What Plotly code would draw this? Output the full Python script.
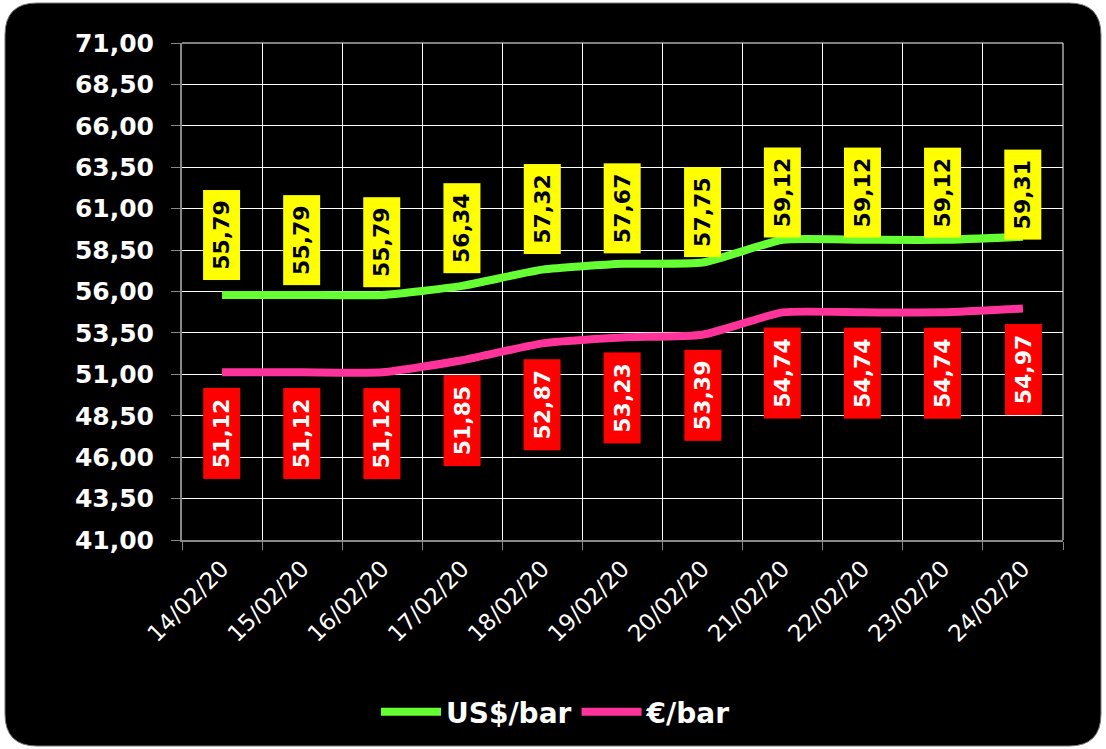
import plotly.graph_objects as go

dates = ["14/02/20", "15/02/20", "16/02/20", "17/02/20", "18/02/20", "19/02/20",
         "20/02/20", "21/02/20", "22/02/20", "23/02/20", "24/02/20"]
usd_bar = [55.79, 55.79, 55.79, 56.34, 57.32, 57.67, 57.75, 59.12, 59.12, 59.12, 59.31]
eur_bar = [51.12, 51.12, 51.12, 51.85, 52.87, 53.23, 53.39, 54.74, 54.74, 54.74, 54.97]
series_names = ["US$/bar", "€/bar"]

# label placement (pixel gap between point and label box, as in the original chart)
usd_label_gap = [14, 9, 7, 12, 15, 10, 5, 2, 2, 2, -3]
eur_label_gap = [15, 15, 15, 14, 15, 15, 15, 15, 15, 15, 15]

W, H = 1106, 749
ML, MR, MT, MB = 182, 43, 43, 209
PW, PH = W - ML - MR, H - MT - MB


def px(x):
    return (x - ML) / PW


def py(y):
    return (H - MB - y) / PH


def rounded_rect(x0, y0, x1, y1, r):
    pts = [
        ("M", [(x0 + r, y0)]),
        ("L", [(x1 - r, y0)]),
        ("Q", [(x1, y0), (x1, y0 + r)]),
        ("L", [(x1, y1 - r)]),
        ("Q", [(x1, y1), (x1 - r, y1)]),
        ("L", [(x0 + r, y1)]),
        ("Q", [(x0, y1), (x0, y1 - r)]),
        ("L", [(x0, y0 + r)]),
        ("Q", [(x0, y0), (x0 + r, y0)]),
    ]
    s = ""
    for cmd, ps in pts:
        s += cmd + " " + " ".join(f"{px(a):.5f},{py(b):.5f}" for a, b in ps) + " "
    return s + "Z"


FONT = "DejaVu Sans"
fig = go.Figure()

fig.add_trace(go.Scatter(
    x=dates, y=usd_bar, name=series_names[0], mode="lines",
    line=dict(color="#66FF33", width=8, shape="spline", smoothing=0.5),
))
fig.add_trace(go.Scatter(
    x=dates, y=eur_bar, name=series_names[1], mode="lines",
    line=dict(color="#FF3399", width=8, shape="spline", smoothing=0.5),
))

annotations = []
for d, v, g in zip(dates, usd_bar, usd_label_gap):
    annotations.append(dict(
        x=d, y=v, xref="x", yref="y", text=f"{v:.2f}".replace(".", ","),
        showarrow=False, textangle=-90, yanchor="bottom", xanchor="center", yshift=g,
        bgcolor="#FFFF00", width=81, height=28, borderpad=4,
        font=dict(family=FONT, size=22, color="black", weight="bold"),
    ))
for d, v, g in zip(dates, eur_bar, eur_label_gap):
    annotations.append(dict(
        x=d, y=v, xref="x", yref="y", text=f"{v:.2f}".replace(".", ","),
        showarrow=False, textangle=-90, yanchor="top", xanchor="center", yshift=-g,
        bgcolor="#FF0000", width=82, height=28, borderpad=4,
        font=dict(family=FONT, size=22, color="white", weight="bold"),
    ))

fig.update_layout(
    width=W, height=H,
    margin=dict(l=ML, r=MR, t=MT, b=MB, pad=0),
    paper_bgcolor="white",
    plot_bgcolor="rgba(0,0,0,0)",
    separators=",.",
    showlegend=True,
    legend=dict(
        orientation="h", x=px(376), xanchor="left", y=py(712), yanchor="middle",
        font=dict(family=FONT, size=28, color="white", weight="bold"),
        bgcolor="rgba(0,0,0,0)", itemwidth=60,
    ),
    annotations=annotations,
    shapes=[dict(
        type="path", xref="paper", yref="paper", layer="below",
        path=rounded_rect(5, 3, 1101, 746, 32),
        fillcolor="black", line=dict(color="#777777", width=1),
    )],
    xaxis=dict(
        type="category", range=[-0.5, 10.5],
        tickson="boundaries", ticks="outside", ticklen=8, tickcolor="#888888",
        showgrid=True, gridcolor="white", gridwidth=1,
        showline=True, linecolor="#888888", linewidth=2,
        tickangle=-45, ticklabelstandoff=4,
        tickfont=dict(family=FONT, size=23, color="white"),
        fixedrange=True,
    ),
    yaxis=dict(
        range=[41, 71], tick0=41, dtick=2.5, tickformat=".2f",
        ticks="outside", ticklen=9, tickcolor="#888888",
        showgrid=True, gridcolor="white", gridwidth=1,
        showline=True, linecolor="#888888", linewidth=2,
        zeroline=False, ticklabelstandoff=12,
        tickfont=dict(family=FONT, size=25, color="white", weight="bold"),
        fixedrange=True,
    ),
)

fig.add_shape(type="line", xref="paper", yref="paper", x0=1, x1=1, y0=0, y1=1,
              line=dict(color="white", width=1))
fig.add_shape(type="line", xref="paper", yref="paper", x0=0, x1=1, y0=1, y1=1,
              line=dict(color="white", width=1))

fig.write_html(
    "out.html",
    config={"displayModeBar": False},
    post_script="document.body.style.margin='0px';document.body.style.overflow='hidden';",
)
